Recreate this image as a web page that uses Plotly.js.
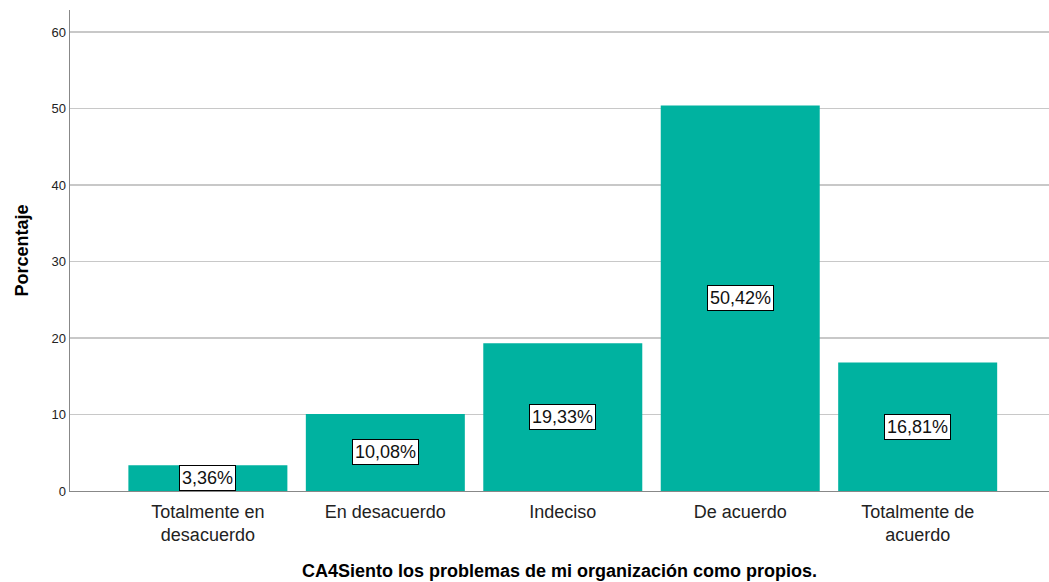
<!DOCTYPE html>
<html><head><meta charset="utf-8">
<script src="https://cdn.plot.ly/plotly-3.0.1.min.js"></script>
<style>html,body{margin:0;padding:0;background:#fff}</style>
</head><body><div id="chart" style="width:1049px;height:582px"></div>
<script>
const categories = ["Totalmente en<br>desacuerdo", "En desacuerdo", "Indeciso", "De acuerdo", "Totalmente de<br>acuerdo"];
const values = [3.36, 10.08, 19.33, 50.42, 16.81];
const labels = ["3,36%", "10,08%", "19,33%", "50,42%", "16,81%"];
const yTicks = [0, 10, 20, 30, 40, 50, 60];

const trace = {type: 'bar', x: categories, y: values, width: 0.896,
  marker: {color: '#00B2A0'}, hoverinfo: 'none'};
const annotations = values.map((v, i) => ({
  x: categories[i], y: v / 2, xref: 'x', yref: 'y', text: labels[i], showarrow: false,
  bgcolor: '#ffffff', bordercolor: '#000000', borderwidth: 1, borderpad: 2,
  font: {family: 'Liberation Sans, Arial', size: 18, color: '#111'}
}));
const layout = {
  width: 1049, height: 582,
  margin: {l: 70, r: 0, t: 10, b: 91},
  paper_bgcolor: '#fff', plot_bgcolor: '#fff',
  showlegend: false,
  font: {family: 'Liberation Sans, Arial', color: '#000'},
  xaxis: {range: [-0.777, 4.74], showgrid: false, zeroline: false,
    showline: true, linecolor: '#888', linewidth: 1, ticks: 'outside', ticklen: 4, tickcolor: 'rgba(0,0,0,0)',
    tickfont: {size: 18, color: '#222'},
    title: {text: '<b>CA4Siento los problemas de mi organización como propios.</b>', font: {size: 18}, standoff: 20}},
  yaxis: {range: [0, 62.9], tickvals: yTicks, showgrid: true, gridcolor: '#c8c8c8', gridwidth: 1.5,
    zeroline: false, showline: true, linecolor: '#888', linewidth: 1.5, ticks: '',
    tickfont: {size: 13, color: '#222'},
    title: {text: '<b>Porcentaje</b>', font: {size: 18}, standoff: 18}},
  annotations: annotations
};
Plotly.newPlot('chart', [trace], layout, {displayModeBar: false, staticPlot: true});
</script></body></html>
